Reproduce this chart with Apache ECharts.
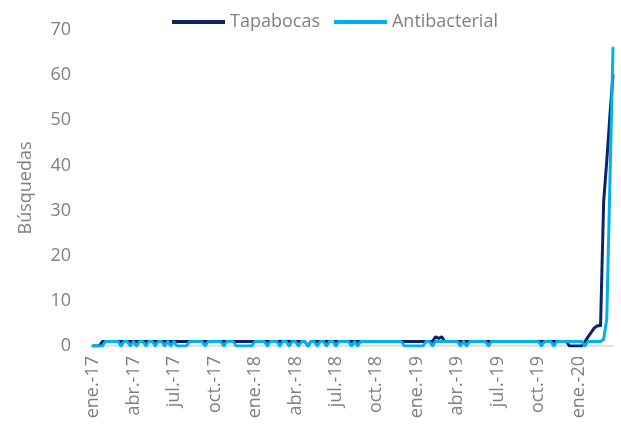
<!DOCTYPE html>
<html>
<head>
<meta charset="utf-8">
<script src="https://cdn.jsdelivr.net/npm/echarts@6/dist/echarts.min.js"></script>
<style>
html,body{margin:0;padding:0;background:#fff;}
#chart{width:621px;height:432px;}
</style>
</head>
<body>
<div id="chart"></div>
<script>
// Quarterly tick labels (one every 13 weeks)
var tickLabels = ['ene.-17','abr.-17','jul.-17','oct.-17','ene.-18','abr.-18','jul.-18','oct.-18','ene.-19','abr.-19','jul.-19','oct.-19','ene.-20'];

// Weekly search index values (168 weeks)
var tapabocas = [
  0,0,0,1,1,1,1,1,1,1,1,1,1,
  1,1,1,1,1,1,1,1,1,1,1,1,1,
  1,1,1,1,1,1,1,1,1,1,1,1,1,
  1,1,1,1,1,1,1,1,1,1,1,1,1,
  1,1,1,1,1,1,1,1,1,1,1,1,1,
  1,1,1,1,0,1,1,1,1,1,1,1,1,
  1,1,1,1,1,1,1,1,1,1,1,1,1,
  1,1,1,1,1,1,1,1,1,1,1,1,1,
  1,1,1,1,1,1,2,1.7,2,1,1,1,1,
  1,1,1,1,1,1,1,1,1,1,1,1,1,
  1,1,1,1,1,1,1,1,1,1,1,1,1,
  1,1,1,1,1,1,1,1,1,1,0,0,0,
  0,0,1,2,3,4,4.5,4.5,32,41,51,60
];
var antibacterial = [
  0,0,0,0,1,1,1,1,1,0,1,1,0,
  1,0,1,1,0,1,1,0,1,1,0,1,0,
  1,0,0,0,0,1,1,1,1,1,0,1,1,
  1,1,1,0,1,1,1,0,0,0,0,0,0,
  1,1,1,1,0,1,1,1,0,1,1,0,1,
  1,0,1,1,0,1,1,0,1,1,0,1,1,
  0,1,1,1,1,0,1,0,1,1,1,1,1,
  1,1,1,1,1,1,1,1,1,0,0,0,0,
  0,0,0,1,1,0,1,1,1,1,1,1,1,
  1,0,1,0,1,1,1,1,1,1,0,1,1,
  1,1,1,1,1,1,1,1,1,1,1,1,1,
  1,0,1,1,1,0,1,1,1,1,1,1,1,
  1,1,0,1,1,1,1,1,1.5,6,36,66
];
var seriesNames = ['Tapabocas','Antibacterial'];

var categories = [];
for (var i = 0; i < tapabocas.length; i++) {
  categories.push(i % 13 === 0 ? tickLabels[i / 13] : 'w' + i);
}

var FONT = 'Open Sans';
var GREY = '#808080';
var chart = echarts.init(document.getElementById('chart'), null, {renderer: 'canvas'});
chart.setOption({
  animation: false,
  backgroundColor: '#ffffff',
  textStyle: {fontFamily: FONT},
  legend: {
    top: 8,
    left: 167,
    icon: 'rect',
    itemWidth: 53,
    itemHeight: 4,
    itemGap: 14,
    textStyle: {color: GREY, fontSize: 18, fontFamily: FONT},
    data: seriesNames
  },
  grid: {left: 93, right: 8, top: 30, bottom: 86, containLabel: false},
  xAxis: {
    type: 'category',
    data: categories,
    boundaryGap: false,
    axisLine: {show: true, lineStyle: {color: '#d9d9d9', width: 1.5}},
    axisTick: {show: false},
    splitLine: {show: false},
    axisLabel: {
      interval: 12,
      rotate: 90,
      margin: 10,
      color: GREY,
      fontSize: 18,
      fontFamily: FONT
    }
  },
  yAxis: {
    type: 'value',
    min: 0,
    max: 70,
    interval: 10,
    name: 'Búsquedas',
    nameLocation: 'middle',
    nameGap: 58,
    nameRotate: 90,
    nameTextStyle: {color: GREY, fontSize: 18, fontFamily: FONT},
    axisLine: {show: false},
    axisTick: {show: false},
    splitLine: {show: false},
    axisLabel: {color: GREY, fontSize: 18, fontFamily: FONT, margin: 22}
  },
  series: [
    {
      name: seriesNames[0],
      type: 'line',
      data: tapabocas,
      showSymbol: false,
      symbol: 'none',
      lineStyle: {color: '#0c2466', width: 3, join: 'round', cap: 'round'},
      itemStyle: {color: '#0c2466'}
    },
    {
      name: seriesNames[1],
      type: 'line',
      data: antibacterial,
      showSymbol: false,
      symbol: 'none',
      lineStyle: {color: '#00b0f0', width: 3, join: 'round', cap: 'round'},
      itemStyle: {color: '#00b0f0'}
    }
  ]
});
</script>
</body>
</html>
